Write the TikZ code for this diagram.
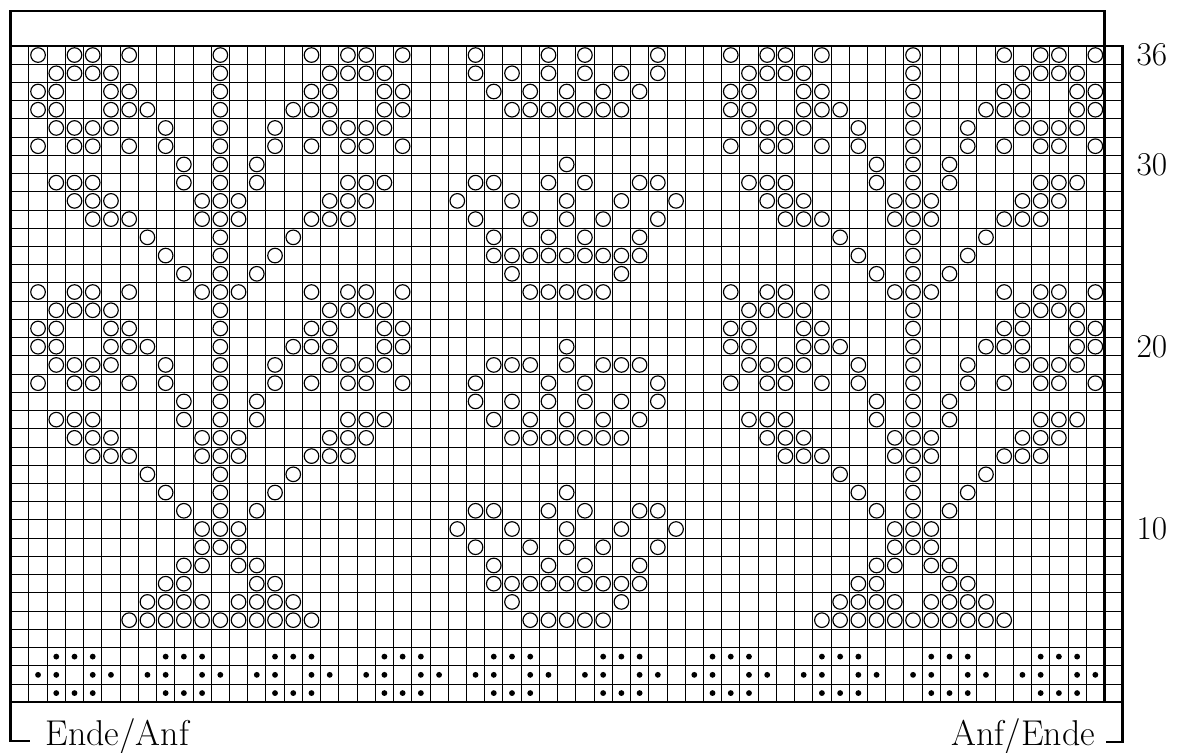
\documentclass[tikz,border=0pt]{standalone}
\usepackage{tikz}
\usetikzlibrary{positioning}
\tikzset{>=latex}
\tikzset{gitter/.style={line width=0.7pt},
  rahmen/.style={line width=1.9pt},
  masche/.style={line width=0.9pt},
  punkt/.style={fill=black},
  zahl/.style={font=\fontsize{26}{30}\selectfont, anchor=west, inner sep=0pt},
  beschriftung/.style={font=\fontsize{28}{32}\selectfont, inner sep=0pt}}

\begin{document}
\begin{tikzpicture}[x=0.5cm, y=0.5cm]
  \useasboundingbox (-0.587,-2.74) rectangle (63.98,38.52);
  % Raster
  \foreach \x in {1,...,60} \draw[gitter] (\x,0) -- (\x,36);
  \foreach \y in {1,...,35} \draw[gitter] (0,\y) -- (61,\y);
  \draw[rahmen] (0,0) rectangle (61,36);
  \draw[rahmen] (0,36) -- (0,37.93) -- (60,37.93) -- (60,0);
  % Baummotiv, zweimal
  \foreach \r/\cs in {36/{1,3,4,6,11,16,18,19,21}, 35/{2,3,4,5,11,17,18,19,20},
      34/{1,2,5,6,11,16,17,20,21}, 33/{1,2,5,6,7,11,15,16,17,20,21},
      32/{2,3,4,5,8,11,14,17,18,19,20}, 31/{1,3,4,6,8,11,14,16,18,19,21},
      30/{9,11,13}, 29/{2,3,4,9,11,13,18,19,20}, 28/{3,4,5,10,11,12,17,18,19},
      27/{4,5,6,10,11,12,16,17,18}, 26/{7,11,15}, 25/{8,11,14}, 24/{9,11,13},
      23/{1,3,4,6,10,11,12,16,18,19,21}, 22/{2,3,4,5,11,17,18,19,20},
      21/{1,2,5,6,11,16,17,20,21}, 20/{1,2,5,6,7,11,15,16,17,20,21},
      19/{2,3,4,5,8,11,14,17,18,19,20}, 18/{1,3,4,6,8,11,14,16,18,19,21},
      17/{9,11,13}, 16/{2,3,4,9,11,13,18,19,20}, 15/{3,4,5,10,11,12,17,18,19},
      14/{4,5,6,10,11,12,16,17,18}, 13/{7,11,15}, 12/{8,11,14}, 11/{9,11,13},
      10/{10,11,12}, 9/{10,11,12}, 8/{9,10,12,13}, 7/{8,9,13,14},
      6/{7,8,9,10,12,13,14,15}, 5/{6,7,8,9,10,11,12,13,14,15,16}}
    \foreach \c in \cs
      \foreach \off in {0,38}
        \draw[masche] (\c+\off+0.5,\r-0.5) circle (0.4);
  % Sternmotiv
  \foreach \r/\cs in {36/{25,29,31,35}, 35/{25,27,29,31,33,35}, 34/{26,28,30,32,34},
      33/{27,28,29,30,31,32,33}, 30/{30}, 29/{25,26,29,31,34,35},
      28/{24,27,30,33,36}, 27/{25,28,30,32,35}, 26/{26,29,31,34},
      25/{26,27,28,29,30,31,32,33,34}, 24/{27,33}, 23/{28,29,30,31,32},
      20/{30}, 19/{26,27,28,30,32,33,34}, 18/{25,29,31,35}, 17/{25,27,29,31,33,35},
      16/{26,28,30,32,34}, 15/{27,28,29,30,31,32,33}, 12/{30},
      11/{25,26,29,31,34,35}, 10/{24,27,30,33,36}, 9/{25,28,30,32,35},
      8/{26,29,31,34}, 7/{26,27,28,29,30,31,32,33,34}, 6/{27,33}, 5/{28,29,30,31,32}}
    \foreach \c in \cs
      \draw[masche] (\c+0.5,\r-0.5) circle (0.4);
  % Punkte Reihe 1 bis 3
  \foreach \g in {0,6,...,54} {
    \foreach \d in {2,3,4} {
      \fill[punkt] (\g+\d+0.5,0.5) circle (0.16);
      \fill[punkt] (\g+\d+0.5,2.5) circle (0.16);
    }
    \foreach \d in {1,2,4,5}
      \fill[punkt] (\g+\d+0.5,1.5) circle (0.16);
  }
  % Reihenzahlen
  \node[zahl] (z36) at (61.75,35.5) {36};
  \node[zahl] (z30) at (61.75,29.5) {30};
  \node[zahl] (z20) at (61.75,19.5) {20};
  \node[zahl] (z10) at (61.75,9.5) {10};
  % Anfang und Ende
  \draw[rahmen] (0,0) -- (0,-2.12) -- (1.06,-2.12);
  \draw[rahmen] (61,0) -- (61,-2.19) -- (60.1,-2.19);
  \node[beschriftung, anchor=base west] (ende) at (1.9,-2.4) {Ende/Anf};
  \node[beschriftung, anchor=base east] (anf) at (59.5,-2.4) {Anf/Ende};
\end{tikzpicture}
\end{document}
